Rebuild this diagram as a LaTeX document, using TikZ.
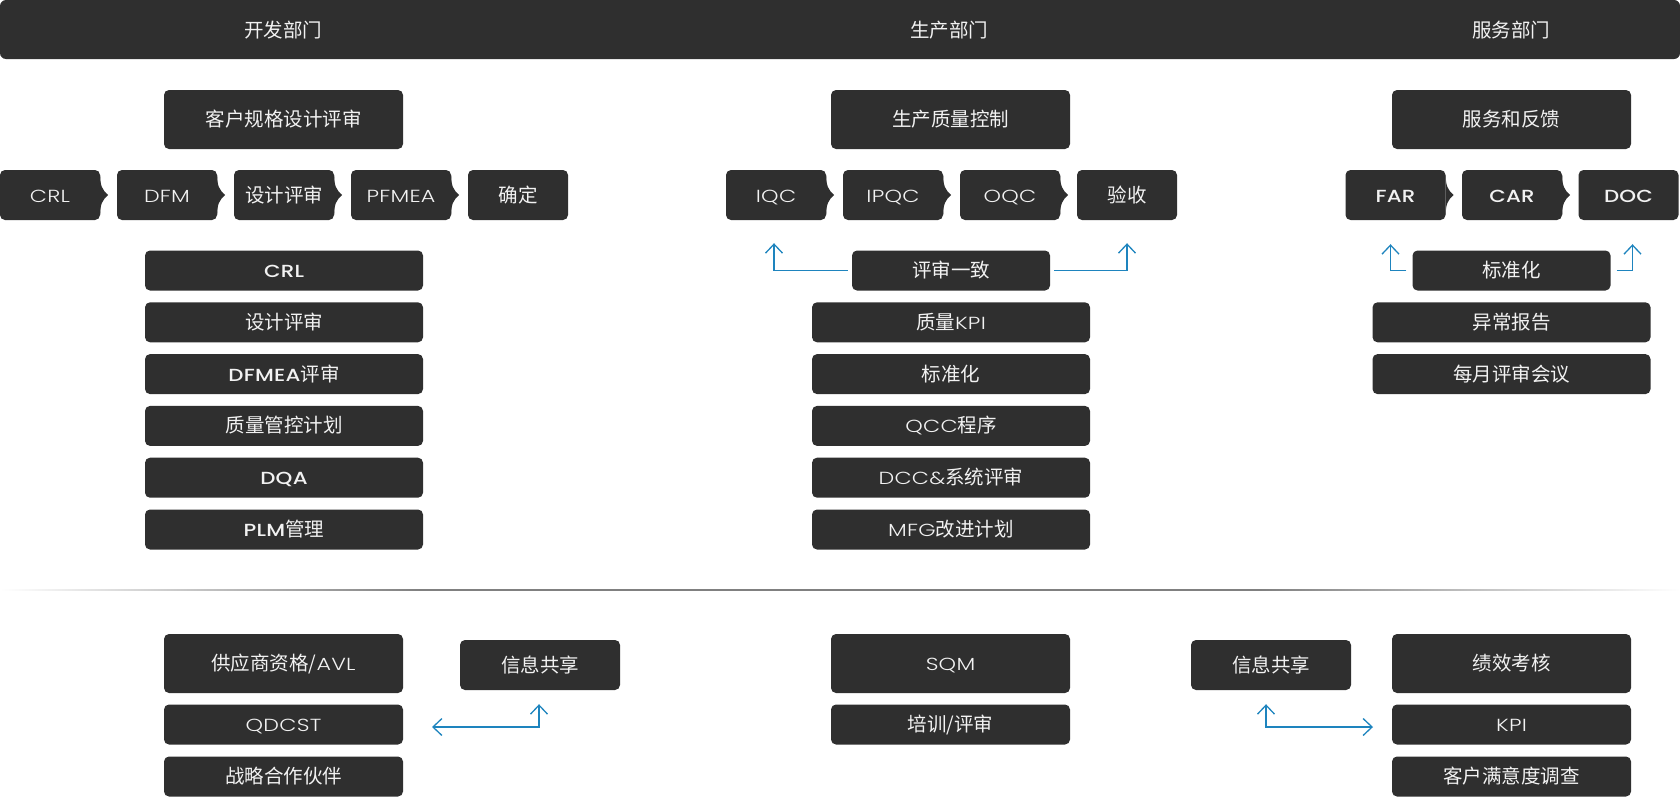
\documentclass[tikz,border=0pt]{standalone}
\usepackage{fontspec}
\setmainfont{Poppins}
\newfontfamily\cjk{Noto Sans CJK SC}
\newfontfamily\ltl{Poppins Light}[FakeStretch=1.27,LetterSpace=1.5]
\newfontfamily\ltm{Poppins Medium}[FakeStretch=1.22,LetterSpace=1.5]
\usetikzlibrary{arrows.meta}
\definecolor{boxc}{RGB}{47,47,47}
\definecolor{txt}{RGB}{242,242,242}
\definecolor{arrc}{RGB}{30,132,190}
\definecolor{divc}{RGB}{128,128,128}
\pgfdeclarehorizontalshading{divfade}{100bp}{color(0bp)=(white); color(25bp)=(white); color(37.5bp)=(divc); color(62.5bp)=(divc); color(75bp)=(white); color(100bp)=(white)}
\newcommand\latl[1]{{\ltl\fontsize{17.5}{22}\selectfont #1}}
\newcommand\latm[1]{{\ltm\fontsize{17.5}{22}\selectfont #1}}
\newcommand\chevtab[1]{\fill[boxc] ([yshift=-5pt]#1.north east) .. controls ([yshift=-16pt]#1.north east) and ([xshift=2pt,yshift=5pt]#1.east) .. ([xshift=8pt]#1.east) .. controls ([xshift=2pt,yshift=-5pt]#1.east) and ([yshift=16pt]#1.south east) .. ([yshift=5pt]#1.south east) -- cycle;}
\tikzset{
  box/.style={fill=boxc, rounded corners=5pt, text=txt, inner sep=0pt,
    font=\cjk\fontsize{19.5}{22}\selectfont, text height=14pt, text depth=0pt},
  tall/.style={box, minimum width=239pt, minimum height=59pt},
  listbox/.style={box, minimum width=278pt, minimum height=40pt},
  chev/.style={box, minimum width=100pt, minimum height=50pt},
  midbox/.style={box, minimum width=198pt, minimum height=40pt},
  infobox/.style={box, minimum width=160pt, minimum height=50pt},
  hdr/.style={text=txt, inner sep=0pt, font=\cjk\fontsize{19.5}{22}\selectfont, text height=14pt, text depth=0pt},
  arr/.style={draw=arrc, line width=1.3pt, -{Straight Barb[length=9pt,width=17pt,line width=1.3pt]}},
  arrb/.style={draw=arrc, line width=1.3pt, {Straight Barb[length=9pt,width=17pt,line width=1.3pt]}-{Straight Barb[length=9pt,width=17pt,line width=1.3pt]}}
}
\begin{document}
\begin{tikzpicture}[x=1pt,y=-1pt]
\useasboundingbox (0,0) rectangle (1680,798);
% header
\fill[boxc, rounded corners=6pt] (0,0) rectangle (1680,59);
\node[hdr] (h1) at (283,30) {开发部门};
\node[hdr] (h2) at (949,30) {生产部门};
\node[hdr] (h3) at (1511,30) {服务部门};

% ===== left column =====
\node[tall] (kh) at (283.5,119.5) {客户规格设计评审};
\node[chev] (c1) at (50,195) {\latl{CRL}};
\node[chev] (c2) at (167,195) {\latl{DFM}};
\node[chev] (c3) at (284,195) {设计评审};
\node[chev] (c4) at (401,195) {\latl{PFMEA}};
\node[chev] (c5) at (518,195) {确定};
\chevtab{c1}\chevtab{c2}\chevtab{c3}\chevtab{c4}
\node[listbox] (l1) at (284,270.5) {\latm{CRL}};
\node[listbox] (l2) at (284,322.3) {设计评审};
\node[listbox] (l3) at (284,374.1) {\latm{DFMEA}评审};
\node[listbox] (l4) at (284,425.9) {质量管控计划};
\node[listbox] (l5) at (284,477.7) {\latm{DQA}};
\node[listbox] (l6) at (284,529.5) {\latm{PLM}管理};

% ===== middle column =====
\node[tall] (sc) at (950.5,119.5) {生产质量控制};
\node[chev] (m1) at (776,195) {\latl{IQC}};
\node[chev] (m2) at (893,195) {\latl{IPQC}};
\node[chev] (m3) at (1010,195) {\latl{OQC}};
\node[chev] (m4) at (1127,195) {验收};
\chevtab{m1}\chevtab{m2}\chevtab{m3}
\node[midbox] (ps) at (951,270.5) {评审一致};
\node[listbox] (n2) at (951,322.3) {质量\latl{KPI}};
\node[listbox] (n3) at (951,374.1) {标准化};
\node[listbox] (n4) at (951,425.9) {\latl{QCC}程序};
\node[listbox] (n5) at (951,477.7) {\latl{DCC\&}系统评审};
\node[listbox] (n6) at (951,529.5) {\latl{MFG}改进计划};
\draw[arr] ([xshift=-4pt]ps.west) -| ([xshift=-2pt,yshift=-23pt]m1.south);
\draw[arr] ([xshift=4pt]ps.east) -| ([yshift=-23pt]m4.south);

% ===== right column =====
\node[tall] (fw) at (1511.5,119.5) {服务和反馈};
\node[chev] (r1) at (1395.5,195) {\latm{FAR}};
\node[chev] (r2) at (1512,195) {\latm{CAR}};
\node[chev] (r3) at (1628.5,195) {\latm{DOC}};
\chevtab{r1}\chevtab{r2}
\node[midbox] (bz) at (1511.5,270.5) {标准化};
\node[listbox] (s2) at (1511.5,322.3) {异常报告};
\node[listbox] (s3) at (1511.5,374.1) {每月评审会议};
\draw[arr] ([xshift=-6pt]bz.west) -| ([xshift=-5pt,yshift=-24pt]r1.south);
\draw[arr] ([xshift=6pt]bz.east) -| ([xshift=4pt,yshift=-24pt]r3.south);

% divider
\shade[shading=divfade] (0,589) rectangle (1680,590.4);

% ===== bottom =====
\node[tall] (b1) at (283.5,663.5) {供应商资格/\latl{AVL}};
\node[listbox, minimum width=239pt] (b2) at (283.5,724.5) {\latl{QDCST}};
\node[listbox, minimum width=239pt] (b3) at (283.5,776.5) {战略合作伙伴};
\node[infobox] (i1) at (540,665) {信息共享};
\coordinate (a1) at (432,727);
\draw[arrb] (a1) -| ([xshift=-1pt,yshift=-14pt]i1.south);

\node[tall] (q1) at (950.5,663.5) {\latl{SQM}};
\node[listbox, minimum width=239pt] (q2) at (950.5,724.5) {培训/评审};

\node[infobox] (i2) at (1271,665) {信息共享};
\coordinate (a2) at (1373,727);
\draw[arrb] ([xshift=-5pt,yshift=-14pt]i2.south) |- (a2);
\node[tall] (k1) at (1511.5,663.5) {绩效考核};
\node[listbox, minimum width=239pt] (k2) at (1511.5,724.5) {\latl{KPI}};
\node[listbox, minimum width=239pt] (k3) at (1511.5,776.5) {客户满意度调查};
\end{tikzpicture}
\end{document}
